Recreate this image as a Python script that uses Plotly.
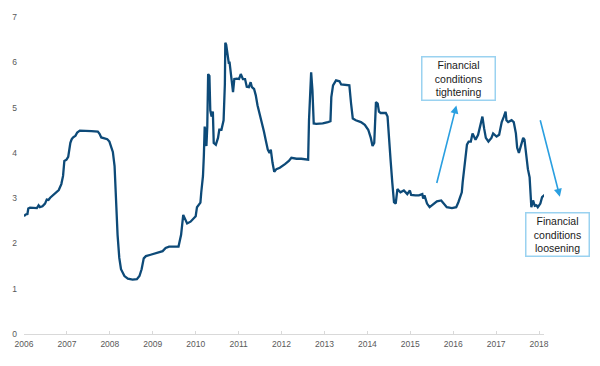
import plotly.graph_objects as go

# Decimal-year positions and index values
years = [
    2006.00, 2006.04, 2006.08, 2006.10, 2006.14, 2006.30, 2006.34, 2006.37, 2006.43, 2006.49,
    2006.53, 2006.57, 2006.61, 2006.68, 2006.76, 2006.81, 2006.87, 2006.91, 2006.94, 2006.99,
    2007.03, 2007.05, 2007.08, 2007.11, 2007.14, 2007.20, 2007.24, 2007.30, 2007.42, 2007.57,
    2007.72, 2007.76, 2007.80, 2007.86, 2007.94, 2007.99, 2008.03, 2008.07, 2008.11, 2008.13,
    2008.15, 2008.18, 2008.22, 2008.26, 2008.34, 2008.42, 2008.53, 2008.63, 2008.69, 2008.74,
    2008.79, 2008.84, 2008.95, 2009.11, 2009.23, 2009.30, 2009.38, 2009.60, 2009.63, 2009.66,
    2009.71, 2009.80, 2009.88, 2010.00, 2010.03, 2010.11, 2010.13, 2010.17, 2010.19, 2010.21,
    2010.23, 2010.25, 2010.27, 2010.29, 2010.32, 2010.34, 2010.37, 2010.40, 2010.42, 2010.47,
    2010.52, 2010.55, 2010.60, 2010.63, 2010.65, 2010.68, 2010.69, 2010.71, 2010.74, 2010.77,
    2010.79, 2010.83, 2010.87, 2010.90, 2010.96, 2011.01, 2011.05, 2011.10, 2011.15, 2011.19,
    2011.24, 2011.28, 2011.31, 2011.36, 2011.40, 2011.44, 2011.50, 2011.55, 2011.59, 2011.63,
    2011.68, 2011.72, 2011.75, 2011.79, 2011.83, 2011.88, 2011.96, 2012.08, 2012.17, 2012.23,
    2012.35, 2012.46, 2012.62, 2012.64, 2012.66, 2012.69, 2012.72, 2012.75, 2012.81, 2012.96,
    2013.08, 2013.14, 2013.16, 2013.20, 2013.27, 2013.35, 2013.39, 2013.50, 2013.58, 2013.62,
    2013.66, 2013.73, 2013.85, 2013.94, 2014.02, 2014.08, 2014.12, 2014.16, 2014.20, 2014.24,
    2014.27, 2014.31, 2014.43, 2014.47, 2014.50, 2014.54, 2014.58, 2014.62, 2014.66, 2014.70,
    2014.73, 2014.77, 2014.85, 2014.93, 2014.99, 2015.02, 2015.12, 2015.20, 2015.28, 2015.30,
    2015.33, 2015.39, 2015.45, 2015.53, 2015.62, 2015.72, 2015.78, 2015.85, 2015.97, 2016.07,
    2016.12, 2016.20, 2016.22, 2016.28, 2016.32, 2016.36, 2016.41, 2016.45, 2016.49, 2016.52,
    2016.58, 2016.64, 2016.68, 2016.72, 2016.76, 2016.82, 2016.89, 2016.93, 2017.01, 2017.07,
    2017.13, 2017.18, 2017.22, 2017.24, 2017.28, 2017.36, 2017.41, 2017.46, 2017.49, 2017.53,
    2017.59, 2017.63, 2017.66, 2017.70, 2017.74, 2017.78, 2017.82, 2017.86, 2017.90, 2017.94,
    2017.97, 2018.03, 2018.07, 2018.13,
]
values = [
    2.60, 2.64, 2.65, 2.77, 2.79, 2.78, 2.84, 2.80, 2.82, 2.88,
    2.97, 2.96, 3.01, 3.07, 3.15, 3.18, 3.31, 3.49, 3.82, 3.85,
    3.91, 4.07, 4.22, 4.30, 4.34, 4.38, 4.45, 4.49, 4.49, 4.48,
    4.47, 4.42, 4.34, 4.32, 4.30, 4.25, 4.15, 4.02, 3.71, 3.20,
    2.77, 2.19, 1.68, 1.43, 1.28, 1.22, 1.20, 1.21, 1.28, 1.43,
    1.67, 1.72, 1.75, 1.79, 1.83, 1.90, 1.93, 1.93, 2.04, 2.19,
    2.63, 2.44, 2.48, 2.60, 2.80, 2.90, 3.13, 3.49, 3.93, 4.58,
    4.36, 4.15, 4.58, 5.74, 5.70, 4.94, 4.80, 4.91, 4.22, 4.18,
    4.33, 4.51, 4.51, 4.62, 4.72, 5.52, 6.43, 6.39, 6.21, 5.99,
    5.99, 5.63, 5.34, 5.63, 5.64, 5.63, 5.74, 5.63, 5.63, 5.46,
    5.45, 5.56, 5.45, 5.41, 5.27, 5.05, 4.83, 4.65, 4.47, 4.29,
    4.07, 4.00, 4.07, 3.78, 3.58, 3.64, 3.67, 3.75, 3.82, 3.89,
    3.87, 3.87, 3.85, 4.72, 5.09, 5.78, 5.38, 4.65, 4.64, 4.65,
    4.68, 4.70, 5.23, 5.49, 5.60, 5.58, 5.51, 5.49, 5.49, 5.09,
    4.76, 4.72, 4.68, 4.62, 4.51, 4.33, 4.15, 4.22, 5.12, 5.09,
    4.91, 4.88, 4.88, 4.80, 4.29, 3.85, 3.35, 2.91, 2.88, 3.20,
    3.17, 3.13, 3.17, 3.09, 3.17, 3.07, 3.06, 3.06, 3.09, 2.99,
    3.06, 2.88, 2.80, 2.86, 2.93, 2.95, 2.88, 2.80, 2.78, 2.80,
    2.91, 3.13, 3.35, 3.82, 4.18, 4.25, 4.25, 4.43, 4.33, 4.29,
    4.40, 4.65, 4.80, 4.54, 4.33, 4.25, 4.33, 4.43, 4.36, 4.40,
    4.68, 4.80, 4.91, 4.72, 4.68, 4.72, 4.68, 4.43, 4.11, 4.00,
    4.18, 4.33, 4.29, 3.96, 3.64, 3.46, 2.80, 2.95, 2.83, 2.84,
    2.80, 2.88, 3.02, 3.07,
]

year_ticks = list(range(2006, 2019))
year_labels = [str(y) for y in year_ticks]
y_ticks = [0, 1, 2, 3, 4, 5, 6, 7]

tight_text = "Financial<br>conditions<br>tightening"
loose_text = "Financial<br>conditions<br>loosening"

LINE_COLOR = "#0d4a78"
ARROW_COLOR = "#2a9fe0"
BOX_COLOR = "#9ad2f0"
TICK_FONT = dict(family="Liberation Sans, Arial, sans-serif", size=8.5, color="#595959")
ANN_FONT = dict(family="Liberation Sans, Arial, sans-serif", size=10.5, color="#1a1a1a")

fig = go.Figure()
fig.add_trace(go.Scatter(
    x=years, y=values, mode="lines",
    line=dict(color=LINE_COLOR, width=2.3),
    hoverinfo="skip", showlegend=False,
))

fig.update_layout(
    width=600, height=366,
    margin=dict(l=20, r=56, t=13, b=32),
    paper_bgcolor="white", plot_bgcolor="white",
    showlegend=False,
    xaxis=dict(
        range=[2006, 2018.115],
        tickmode="array", tickvals=year_ticks, ticktext=year_labels,
        showgrid=False, zeroline=False,
        showline=True, linecolor="#d9d9d9", linewidth=1,
        ticks="inside", ticklen=3, tickcolor="#d9d9d9",
        tickfont=TICK_FONT, ticklabelstandoff=2,
    ),
    yaxis=dict(
        range=[0, 7],
        tickmode="array", tickvals=y_ticks,
        showgrid=False, zeroline=False, showline=False,
        tickfont=TICK_FONT, ticklabelstandoff=6,
    ),
    annotations=[
        dict(xref="paper", yref="paper", x=0.836, y=0.807, xanchor="center", yanchor="middle",
             text=tight_text, showarrow=False, font=ANN_FONT, align="center",
             bordercolor=BOX_COLOR, borderwidth=1.5, borderpad=0,
             width=72, height=42, bgcolor="white"),
        dict(xref="paper", yref="paper", x=1.025, y=0.314, xanchor="center", yanchor="middle",
             text=loose_text, showarrow=False, font=ANN_FONT, align="center",
             bordercolor=BOX_COLOR, borderwidth=1.5, borderpad=0,
             width=62, height=42, bgcolor="white"),
        dict(xref="paper", yref="paper", x=0.8315, y=0.7206, text="",
             showarrow=True, ax=-20, ay=79, arrowhead=2, arrowsize=1, arrowwidth=1.6,
             arrowcolor=ARROW_COLOR),
        dict(xref="paper", yref="paper", x=1.0305, y=0.433, text="",
             showarrow=True, ax=-20, ay=-78, arrowhead=2, arrowsize=1, arrowwidth=1.6,
             arrowcolor=ARROW_COLOR),
    ],
)

fig.write_html(
    "out.html",
    config={"displayModeBar": False, "staticPlot": True},
    post_script="document.body.style.margin='0';document.body.style.padding='0';",
)
